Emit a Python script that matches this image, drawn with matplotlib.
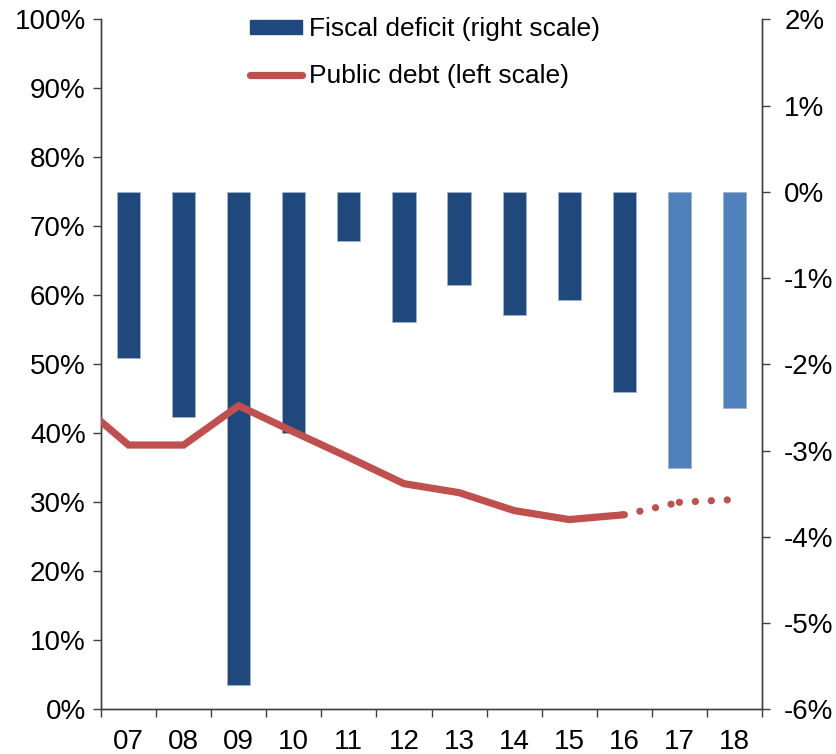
import matplotlib
matplotlib.use("Agg")
import matplotlib.pyplot as plt
from matplotlib.patches import Patch
from matplotlib.lines import Line2D
import numpy as np

plt.rcParams['font.family'] = ['Liberation Sans', 'DejaVu Sans']

years = ['07', '08', '09', '10', '11', '12', '13', '14', '15', '16', '17', '18']
deficit = [-1.93, -2.61, -5.72, -2.80, -0.57, -1.51, -1.08, -1.43, -1.26, -2.32, -3.20, -2.51]
forecast = [False] * 10 + [True, True]
# public debt, first value is 2006 (clipped at the left edge)
debt_years = ['06'] + years
debt = [45.1, 38.3, 38.3, 44.0, 40.2, 36.5, 32.7, 31.4, 28.8, 27.5, 28.2, 30.0, 30.4]
last_actual = '16'

dark = '#1F497D'
light = '#4F81BD'
red = '#C0504D'
spine_col = '#404040'

fig = plt.figure(figsize=(8.36, 7.54), dpi=100)
ax = fig.add_axes([101/836, 1 - 709.3/754, (762 - 101)/836, (709.3 - 19.3)/754])
ax2 = ax.twinx()

x = np.arange(len(years))
cols = [light if f else dark for f in forecast]
ax2.bar(x, deficit, width=0.42, color=cols, edgecolor='#9fb3cc', linewidth=0.6, zorder=2)

dx = np.arange(len(debt)) - 1
k = debt_years.index(last_actual)
ax.plot(dx[:k + 1], debt[:k + 1], color=red, lw=5.2, solid_joinstyle='miter',
        solid_capstyle='butt', zorder=3)
for i in range(k, len(debt) - 1):
    ax.plot(dx[i:i + 2], debt[i:i + 2], color=red, lw=5.2, linestyle=(0, (0.01, 2.2)),
            dash_capstyle='round', zorder=3)

ax.set_zorder(ax2.get_zorder() + 1)
ax.patch.set_visible(False)

ax.set_xlim(-0.5, len(years) - 0.5)
ax.set_ylim(0, 100)
ax2.set_ylim(-6, 2)

ax.set_yticks(np.arange(0, 101, 10))
ax.set_yticklabels([f'{v}%' for v in range(0, 101, 10)])
ax2.set_yticks(np.arange(-6, 3, 1))
ax2.set_yticklabels([f'{v}%' for v in range(-6, 3, 1)])

ax.set_xticks(np.arange(-0.5, len(years), 1))
ax.set_xticklabels([])
ax.set_xticks(x, minor=True)
ax.set_xticklabels(years, minor=True)

fs = 20
ax.tick_params(axis='y', direction='out', length=6, width=1, color=spine_col, labelsize=fs, pad=5)
ax2.tick_params(axis='y', direction='out', length=6, width=1, color=spine_col, labelsize=fs, pad=10)
ax.tick_params(axis='x', which='major', direction='out', length=6, width=1, color=spine_col)
ax.tick_params(axis='x', which='minor', length=0, labelsize=fs, pad=14)

for a in (ax, ax2):
    a.spines['top'].set_visible(False)
    for s in ('left', 'right', 'bottom'):
        a.spines[s].set_color(spine_col)
        a.spines[s].set_linewidth(1)

handles = [Patch(facecolor=dark, edgecolor=dark),
           Line2D([0], [0], color=red, lw=5.2, solid_capstyle='round')]
labels = ['Fiscal deficit (right scale)', 'Public debt (left scale)']
leg = ax.legend(handles, labels, loc='upper left', bbox_to_anchor=(0.209, 1.018),
                frameon=False, fontsize=19, handlelength=2.0, handleheight=0.45,
                handletextpad=0.25, labelspacing=0.85, borderaxespad=0)

fig.savefig('out.png', dpi=100)
